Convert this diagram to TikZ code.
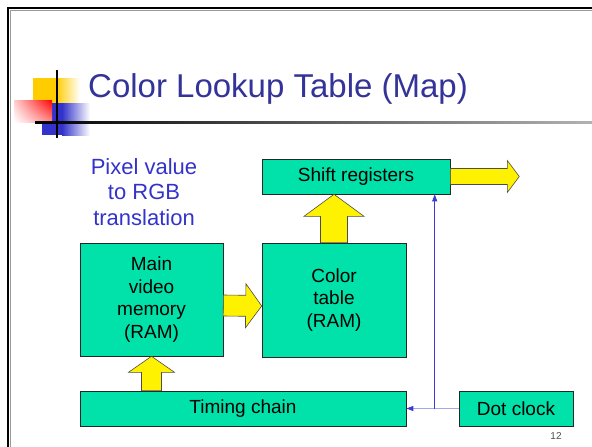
\documentclass[tikz,border=0pt]{standalone}
\usepackage{fontspec}
\setmainfont{Liberation Sans}
\usetikzlibrary{calc,arrows.meta,shadings}

\definecolor{boxgreen}{RGB}{0,226,170}
\definecolor{titleblue}{RGB}{51,51,153}
\definecolor{textblue}{RGB}{51,51,204}
\definecolor{clkblue}{RGB}{60,60,210}
\definecolor{markyellow}{RGB}{255,204,0}
\definecolor{markblue}{RGB}{51,51,204}

\tikzset{
  box/.style={draw=black!85, fill=boxgreen, line width=0.6pt, align=center,
    inner sep=0pt, font=\fontsize{19}{22.7}\selectfont},
  fat/.style n args={3}{draw=black!70, fill=yellow, line width=0.6pt,
    to path={let \p1=(\tikztostart), \p2=(\tikztotarget) in
      ($(\p1)!#1!90:(\p2)$) -- ($(\p2)!#3!(\p1)!#1!-90:(\p1)$)
      -- ($(\p2)!#3!(\p1)!#2!-90:(\p1)$) -- (\p2)
      -- ($(\p2)!#3!(\p1)!#2!90:(\p1)$) -- ($(\p2)!#3!(\p1)!#1!90:(\p1)$)
      -- ($(\p1)!#1!-90:(\p2)$) -- cycle}},
  clk/.style={line width=0.8pt, draw=clkblue,
    -{Triangle[length=7pt,width=5pt,color=clkblue]}}
}

\begin{document}
\begin{tikzpicture}[x=1pt, y=-1pt]
  \useasboundingbox (0,0) rectangle (592,447);

  % slide frame
  \draw[black!40, line width=1pt] (10.5,447) -- (10.5,10.5) -- (592,10.5);
  \draw[black, line width=2.2pt] (8,447) -- (8,8) -- (592,8);

  % title mark
  \fill[markyellow] (33,78) rectangle (56,105);
  \shade[left color=markyellow, right color=white] (56,78) rectangle (80,105);
  \fill[markblue] (42,103) rectangle (62,135);
  \shade[left color=markblue, right color=white] (62,103) rectangle (90,135);
  \shade[upper right=red, upper left=red!20, lower right=red!45, lower left=white]
    (14,100) rectangle (52,122);
  \shade[left color=black, right color=black!30] (35,121) rectangle (592,123.2);
  \draw[black, line width=2.4pt] (57,70) -- (57,138);

  \node[anchor=base west, inner sep=0pt, text=titleblue,
    font=\fontsize{33}{40}\selectfont] (title) at (88,97) {Color Lookup Table (Map)};

  \node[align=center, text=textblue, inner sep=0pt,
    font=\fontsize{22}{25.5}\selectfont] (note) at (144,192) {Pixel value\\to RGB\\translation};

  \foreach \n/\x/\y/\w/\h/\t in {mem/151.5/299.5/143/113/{Main\\video\\memory\\(RAM)},
      ctab/334/300/144/114/{Color\\table\\(RAM)},
      shift/356/176.5/188/35/{Shift registers},
      timing/243/408.5/326/35/{Timing chain},
      dot/516/408.5/114/35/{Dot clock}}
    \node[box, minimum width=\w, minimum height=\h] (\n) at (\x,\y) {\t};

  \coordinate (out) at ([xshift=69pt]shift.east);
  \coordinate (tap) at ([xshift=-24pt]dot.west);

  \draw[fat={10.5pt}{22pt}{16pt}] ([yshift=-6pt]mem.east) to ([yshift=-6pt]ctab.west);
  \draw[fat={13.5pt}{30pt}{22pt}] (ctab.north) to (ctab.north |- shift.south);
  \draw[fat={10pt}{23pt}{16pt}] (mem.south |- timing.north) to (mem.south);
  \draw[fat={8pt}{16pt}{12pt}] (shift.east) to (out);

  \draw[clk, draw=clkblue!45] (dot.west) -- (timing.east);
  \draw[clk] (tap) -- (tap |- shift.south);

  \node[text=black!70, font=\fontsize{10}{12}\selectfont] (pnum) at (556,436) {12};
\end{tikzpicture}
\end{document}
